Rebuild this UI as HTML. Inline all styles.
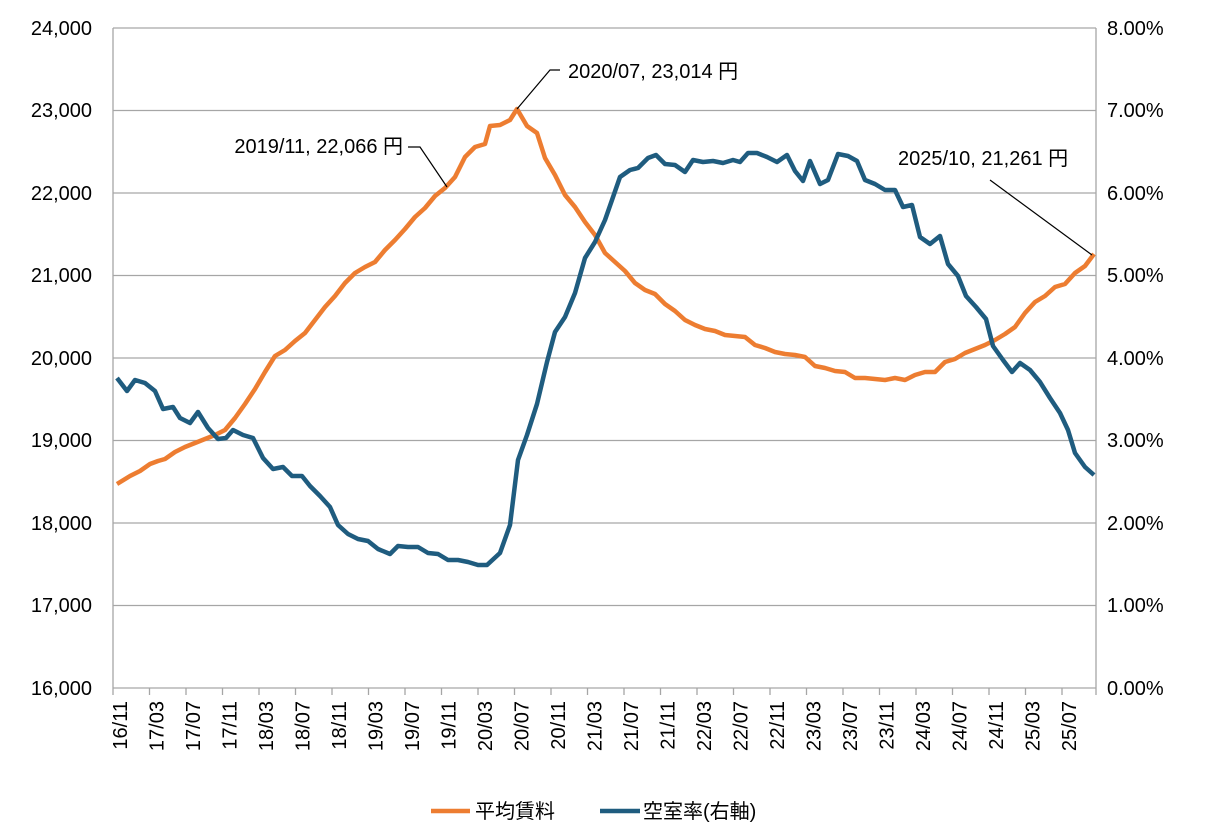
<!DOCTYPE html>
<html><head><meta charset="utf-8"><style>
body{margin:0;background:#fff}
text{font-family:"Liberation Sans","Noto Sans CJK JP",sans-serif;font-size:20px;fill:#000}
</style></head><body>
<svg width="1216" height="831" xmlns="http://www.w3.org/2000/svg">
<g stroke="#a6a6a6" stroke-width="1.3">
<line x1="113" y1="28" x2="1096" y2="28"/><line x1="113" y1="110.5" x2="1096" y2="110.5"/>
<line x1="113" y1="193" x2="1096" y2="193"/><line x1="113" y1="275.5" x2="1096" y2="275.5"/>
<line x1="113" y1="358" x2="1096" y2="358"/><line x1="113" y1="440.5" x2="1096" y2="440.5"/>
<line x1="113" y1="523" x2="1096" y2="523"/><line x1="113" y1="605.5" x2="1096" y2="605.5"/>
<line x1="113" y1="688" x2="1096" y2="688"/>
<line x1="113" y1="28" x2="113" y2="695"/><line x1="1096" y1="28" x2="1096" y2="695"/>
<line x1="149.5" y1="688" x2="149.5" y2="695"/><line x1="186" y1="688" x2="186" y2="695"/><line x1="222.5" y1="688" x2="222.5" y2="695"/><line x1="259" y1="688" x2="259" y2="695"/><line x1="295.5" y1="688" x2="295.5" y2="695"/><line x1="332" y1="688" x2="332" y2="695"/><line x1="368.5" y1="688" x2="368.5" y2="695"/><line x1="405" y1="688" x2="405" y2="695"/><line x1="441.5" y1="688" x2="441.5" y2="695"/><line x1="478" y1="688" x2="478" y2="695"/><line x1="514.5" y1="688" x2="514.5" y2="695"/><line x1="551" y1="688" x2="551" y2="695"/><line x1="587.5" y1="688" x2="587.5" y2="695"/><line x1="624" y1="688" x2="624" y2="695"/><line x1="660.5" y1="688" x2="660.5" y2="695"/><line x1="697" y1="688" x2="697" y2="695"/><line x1="733.5" y1="688" x2="733.5" y2="695"/><line x1="770" y1="688" x2="770" y2="695"/><line x1="806.5" y1="688" x2="806.5" y2="695"/><line x1="843" y1="688" x2="843" y2="695"/><line x1="879.5" y1="688" x2="879.5" y2="695"/><line x1="916" y1="688" x2="916" y2="695"/><line x1="952.5" y1="688" x2="952.5" y2="695"/><line x1="989" y1="688" x2="989" y2="695"/><line x1="1025.5" y1="688" x2="1025.5" y2="695"/><line x1="1062" y1="688" x2="1062" y2="695"/>
</g>
<g text-anchor="end">
<text x="92" y="35">24,000</text><text x="92" y="117">23,000</text><text x="92" y="200">22,000</text>
<text x="92" y="282">21,000</text><text x="92" y="365">20,000</text><text x="92" y="447">19,000</text>
<text x="92" y="530">18,000</text><text x="92" y="612">17,000</text><text x="92" y="695">16,000</text>
</g>
<g>
<text x="1107" y="35">8.00%</text><text x="1107" y="117">7.00%</text><text x="1107" y="200">6.00%</text>
<text x="1107" y="282">5.00%</text><text x="1107" y="365">4.00%</text><text x="1107" y="447">3.00%</text>
<text x="1107" y="530">2.00%</text><text x="1107" y="612">1.00%</text><text x="1107" y="695">0.00%</text>
</g>
<g text-anchor="end">
<text transform="translate(127,701) rotate(-90)">16/11</text>
<text transform="translate(163.5,701) rotate(-90)">17/03</text>
<text transform="translate(200,701) rotate(-90)">17/07</text>
<text transform="translate(236.5,701) rotate(-90)">17/11</text>
<text transform="translate(273,701) rotate(-90)">18/03</text>
<text transform="translate(309.5,701) rotate(-90)">18/07</text>
<text transform="translate(346,701) rotate(-90)">18/11</text>
<text transform="translate(382.5,701) rotate(-90)">19/03</text>
<text transform="translate(419,701) rotate(-90)">19/07</text>
<text transform="translate(455.5,701) rotate(-90)">19/11</text>
<text transform="translate(492,701) rotate(-90)">20/03</text>
<text transform="translate(528.5,701) rotate(-90)">20/07</text>
<text transform="translate(565,701) rotate(-90)">20/11</text>
<text transform="translate(601.5,701) rotate(-90)">21/03</text>
<text transform="translate(638,701) rotate(-90)">21/07</text>
<text transform="translate(674.5,701) rotate(-90)">21/11</text>
<text transform="translate(711,701) rotate(-90)">22/03</text>
<text transform="translate(747.5,701) rotate(-90)">22/07</text>
<text transform="translate(784,701) rotate(-90)">22/11</text>
<text transform="translate(820.5,701) rotate(-90)">23/03</text>
<text transform="translate(857,701) rotate(-90)">23/07</text>
<text transform="translate(893.5,701) rotate(-90)">23/11</text>
<text transform="translate(930,701) rotate(-90)">24/03</text>
<text transform="translate(966.5,701) rotate(-90)">24/07</text>
<text transform="translate(1003,701) rotate(-90)">24/11</text>
<text transform="translate(1039.5,701) rotate(-90)">25/03</text>
<text transform="translate(1076,701) rotate(-90)">25/07</text>
</g>
<polyline fill="none" stroke="#ed7d31" stroke-width="4.5" stroke-linejoin="round" points="117,484 130,476 140,471 150,464 158,461 165,459 175,452 185,447 195,443 205,439 215,435 225,430 235,418 245,404 255,389 265,372 275,356 285,350 295,341 305,333 315,320 325,307 335,296 345,283 355,273 365,267 375,262 385,250 395,240 405,229 415,217 425,208 435,196 445,188 455,177 465,157 475,147 485,144 490,126 500,125 510,120 517,109 527,126 537,133 545,158 555,175 565,195 575,207 585,222 595,235 605,253 615,262 625,271 635,283 645,290 655,294 665,304 675,311 685,320 695,325 705,329 715,331 725,335 735,336 745,337 755,345 765,348 775,352 785,354 795,355 805,357 815,366 825,368 835,371 845,372 855,378 865,378 875,379 885,380 895,378 905,380 915,375 925,372 935,372 945,362 955,359 965,353 975,349 985,345 995,340 1005,334 1015,327 1025,313 1035,302 1045,296 1055,287 1065,284 1075,273 1085,266 1094,254"/>
<polyline fill="none" stroke="#1f5c7f" stroke-width="4.5" stroke-linejoin="round" points="117,378 127,391 135,380 145,383 155,391 163,409 173,407 180,418 190,423 198,412 208,428 218,439 226,438 233,430 243,435 253,438 263,458 273,469 283,467 292,476 302,476 310,486 320,496 330,507 338,525 348,534 358,539 368,541 378,549 390,554 398,546 408,547 418,547 428,553 438,554 448,560 458,560 468,562 478,565 487,565 500,553 510,525 518,460 527,435 537,404 547,362 555,332 565,317 575,293 585,258 595,242 605,220 612,200 620,177 630,170 638,168 648,158 656,155 665,164 675,165 685,172 693,160 703,162 713,161 723,163 733,160 740,162 748,153 757,153 767,157 777,162 787,155 795,171 803,181 810,161 820,184 828,180 838,154 848,156 857,161 865,180 875,184 885,190 895,190 903,207 912,205 920,237 930,244 940,236 948,264 958,276 966,296 976,307 986,319 993,346 1003,360 1012,372 1020,363 1030,370 1040,382 1050,398 1060,413 1068,430 1075,453 1085,467 1094,475"/>
<g stroke="#000" stroke-width="1.2" fill="none">
<polyline points="517,109 550,70 560,70"/>
<polyline points="408,147 420,147 447,187"/>
<polyline points="990,180 1092,255"/>
</g>
<text x="568" y="78">2020/07, 23,014 円</text>
<text x="403" y="153" text-anchor="end">2019/11, 22,066 円</text>
<text x="898" y="165">2025/10, 21,261 円</text>
<line x1="431" y1="811" x2="470" y2="811" stroke="#ed7d31" stroke-width="4.5"/>
<text x="475" y="818">平均賃料</text>
<line x1="600" y1="811" x2="640" y2="811" stroke="#1f5c7f" stroke-width="4.5"/>
<text x="643" y="818">空室率(右軸)</text>
</svg>
</body></html>
